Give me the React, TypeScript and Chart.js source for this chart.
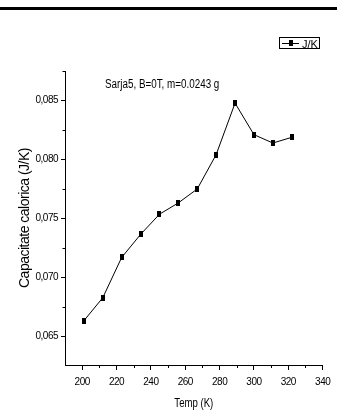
import React, { useEffect, useRef } from "react";
import { Chart, registerables } from "chart.js";

Chart.register(...registerables);

const tempK = [201, 212, 223, 234, 245, 256, 267, 278, 289, 300, 311, 322];
const heatCapacity = [0.06635, 0.0683, 0.07171, 0.07366, 0.07537, 0.07633, 0.07751, 0.08042, 0.08478, 0.08211, 0.0814, 0.08188];
const xMajorTicks = [200, 220, 240, 260, 280, 300, 320, 340];
const xMinorTicks = [210, 230, 250, 270, 290, 310, 330];
const yMajorTicks = [0.065, 0.07, 0.075, 0.08, 0.085];
const yMinorTicks = [0.0675, 0.0725, 0.0775, 0.0825, 0.0875];
const seriesLabel = "J/K";
const annotationText = "Sarja5, B=0T, m=0.0243 g";
const xTitle = "Temp (K)";
const yTitle = "Capacitate calorica (J/K)";

const SANS = "'Liberation Sans', Arial, sans-serif";

function makeMarker(): HTMLCanvasElement {
  const c = document.createElement("canvas");
  c.width = 4;
  c.height = 6;
  const ctx = c.getContext("2d")!;
  ctx.fillStyle = "#000";
  ctx.fillRect(0, 0, 4, 6);
  return c;
}

function squeezedText(ctx: CanvasRenderingContext2D, text: string, x: number, y: number, sx: number, align: CanvasTextAlign) {
  ctx.save();
  ctx.translate(x, y);
  ctx.scale(sx, 1);
  ctx.textAlign = align;
  ctx.fillText(text, 0, 0);
  ctx.restore();
}

const decorPlugin = {
  id: "decor",
  beforeDraw(chart: any) {
    (chart.ctx as any).letterSpacing = "-0.5px";
  },
  afterDraw(chart: any) {
    const ctx = chart.ctx as CanvasRenderingContext2D;
    (ctx as any).letterSpacing = "0px";
    const xs = chart.scales.x;
    const ys = chart.scales.y;
    const area = chart.chartArea;
    ctx.save();
    // top rule
    ctx.fillStyle = "#000";
    ctx.fillRect(0, 7, 337, 3);
    // minor ticks
    ctx.strokeStyle = "#000";
    ctx.lineWidth = 1;
    ctx.beginPath();
    for (const v of yMinorTicks) {
      const y = Math.round(ys.getPixelForValue(v)) + 0.5;
      ctx.moveTo(area.left - 2.5, y);
      ctx.lineTo(area.left, y);
    }
    for (const v of xMinorTicks) {
      const x = Math.round(xs.getPixelForValue(v)) + 0.5;
      ctx.moveTo(x, area.bottom);
      ctx.lineTo(x, area.bottom + 3);
    }
    ctx.stroke();
    ctx.fillStyle = "#000";
    ctx.textBaseline = "alphabetic";
    // annotation
    ctx.font = `12px ${SANS}`;
    squeezedText(ctx, annotationText, 105, 88, 0.82, "left");
    // x axis title
    squeezedText(ctx, xTitle, (area.left + area.right) / 2, 407, 0.8, "center");
    // legend
    ctx.strokeRect(279.5, 37.5, 40, 11);
    ctx.beginPath();
    ctx.moveTo(282, 43.5);
    ctx.lineTo(299, 43.5);
    ctx.stroke();
    ctx.fillRect(289, 40, 4, 6);
    ctx.font = `11px ${SANS}`;
    squeezedText(ctx, seriesLabel, 302, 47.5, 1, "left");
    ctx.restore();
  },
};

export default function App() {
  const ref = useRef<HTMLCanvasElement | null>(null);
  useEffect(() => {
    if (!ref.current) return;
    const marker = makeMarker();
    const chart = new Chart(ref.current, {
      type: "line",
      data: {
        datasets: [
          {
            label: seriesLabel,
            data: tempK.map((t, i) => ({ x: t, y: heatCapacity[i] })),
            borderColor: "#000",
            borderWidth: 1,
            backgroundColor: "#000",
            pointStyle: marker as any,
            pointRadius: 3,
            tension: 0,
          },
        ],
      },
      options: {
        animation: false,
        responsive: false,
        devicePixelRatio: 1,
        layout: { padding: { top: 71, right: 10, left: 0, bottom: 0 } },
        plugins: { legend: { display: false }, tooltip: { enabled: false } },
        scales: {
          x: {
            type: "linear",
            min: 190,
            max: 340,
            afterFit(scale: any) {
              scale.height = 45;
            },
            afterBuildTicks(scale: any) {
              scale.ticks = xMajorTicks.map((value) => ({ value }));
            },
            grid: { drawOnChartArea: false, drawTicks: true, tickLength: 5, color: "#000" },
            border: { display: true, color: "#000", width: 1 },
            ticks: {
              color: "#000",
              font: { family: SANS, size: 10 },
              padding: 6,
              maxRotation: 0,
              autoSkip: false,
              callback: (v: any) => String(v),
            },
            title: { display: false, text: xTitle },
          },
          y: {
            type: "linear",
            min: 0.0626,
            max: 0.0875,
            afterFit(scale: any) {
              scale.width = 65;
            },
            afterBuildTicks(scale: any) {
              scale.ticks = yMajorTicks.map((value) => ({ value }));
            },
            grid: { drawOnChartArea: false, drawTicks: true, tickLength: 4, color: "#000" },
            border: { display: true, color: "#000", width: 1 },
            ticks: {
              color: "#000",
              font: { family: SANS, size: 10 },
              padding: 3,
              autoSkip: false,
              callback: (v: any) => Number(v).toFixed(3).replace(".", ","),
            },
            title: {
              display: true,
              text: yTitle,
              color: "#000",
              font: { family: SANS, size: 14 },
              padding: { top: 17, bottom: 0 },
            },
          },
        },
      },
      plugins: [decorPlugin],
    });
    return () => chart.destroy();
  }, []);
  return (
    <div style={{ position: "fixed", left: 0, top: 0, width: 337, height: 410, background: "#fff" }}>
      <canvas ref={ref} width={337} height={410} style={{ display: "block", width: 337, height: 410 }} />
    </div>
  );
}
